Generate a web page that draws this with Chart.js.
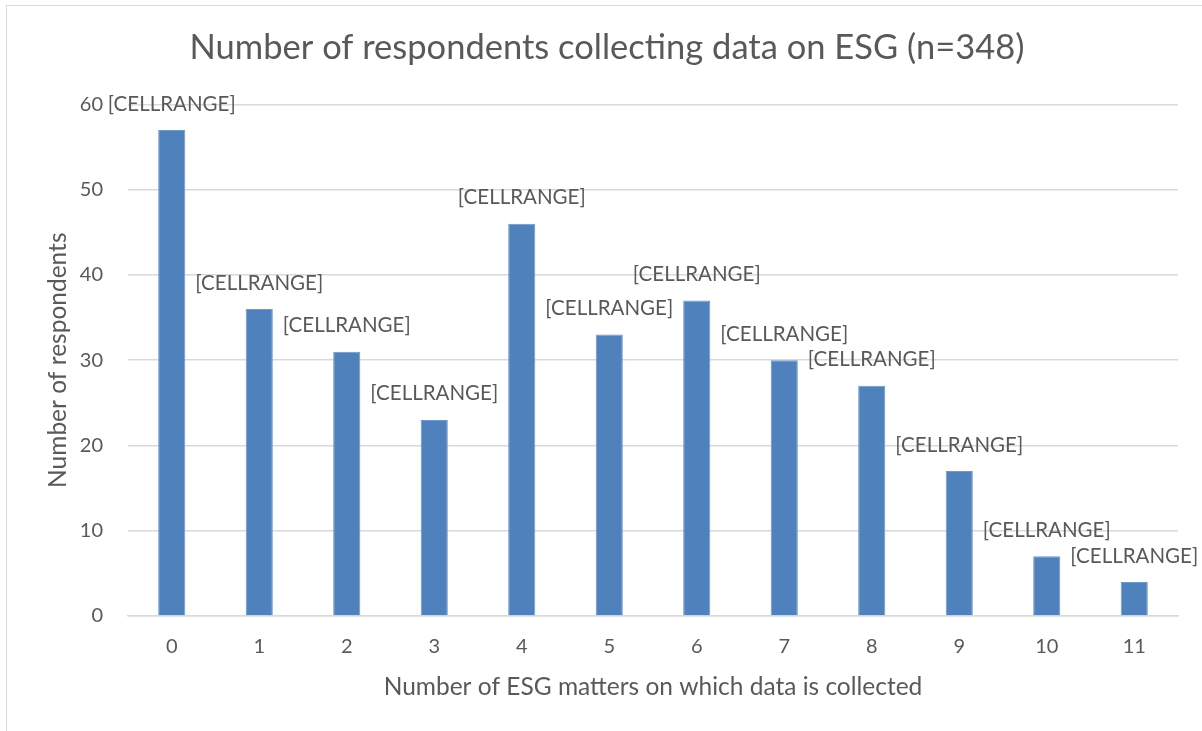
<!DOCTYPE html>
<html>
<head>
<meta charset="utf-8">
<script src="https://cdn.jsdelivr.net/npm/chart.js@4"></script>
<style>
  html, body { margin: 0; padding: 0; background: #fff; overflow: hidden; }
  #frame {
    position: absolute; left: 6px; top: 5px; width: 1400px; height: 900px;
    border-left: 1.5px solid #d9d9d9; border-top: 1.5px solid #d9d9d9;
  }
  #wrap { position: absolute; left: 0; top: 0; width: 1202px; height: 731px; }
</style>
</head>
<body>
<div id="frame"></div>
<div id="wrap"><canvas id="esgChart" width="1202" height="731"></canvas></div>
<script>
// Chart data
const categories = ['0', '1', '2', '3', '4', '5', '6', '7', '8', '9', '10', '11'];
const respondents = [57, 36, 31, 23, 46, 33, 37, 30, 27, 17, 7, 4];
const barLabels = ['[CELLRANGE]', '[CELLRANGE]', '[CELLRANGE]', '[CELLRANGE]', '[CELLRANGE]', '[CELLRANGE]',
  '[CELLRANGE]', '[CELLRANGE]', '[CELLRANGE]', '[CELLRANGE]', '[CELLRANGE]', '[CELLRANGE]'];
const yTicks = [0, 10, 20, 30, 40, 50, 60];

const FONT = 'Lato, "Open Sans", sans-serif';
const TEXT = '#595959';

// Draws the "[CELLRANGE]" labels above each bar
const barLabelPlugin = {
  id: 'barLabels',
  afterDatasetsDraw(chart) {
    const ctx = chart.ctx;
    const meta = chart.getDatasetMeta(0);
    ctx.save();
    ctx.font = '20.5px ' + FONT;
    ctx.fillStyle = TEXT;
    ctx.textAlign = 'center';
    ctx.textBaseline = 'middle';
    meta.data.forEach((bar, i) => {
      ctx.fillText(barLabels[i], bar.x, bar.y - 26);
    });
    ctx.restore();
  }
};

new Chart(document.getElementById('esgChart'), {
  type: 'bar',
  data: {
    labels: categories,
    datasets: [{
      data: respondents,
      backgroundColor: '#4f81bd',
      borderColor: '#6f97c9',
      borderWidth: 1,
      categoryPercentage: 1,
      barPercentage: 0.31
    }]
  },
  plugins: [barLabelPlugin],
  options: {
    responsive: false,
    animation: false,
    layout: { padding: { left: 36, right: 24, top: 0, bottom: 0 } },
    plugins: {
      legend: { display: false },
      tooltip: { enabled: false },
      title: {
        display: true,
        text: 'Number of respondents collecting data on ESG (n=348)',
        color: TEXT,
        font: { family: FONT, size: 34.5, weight: 'normal' },
        padding: { top: 27, bottom: 36 }
      }
    },
    scales: {
      x: {
        grid: { display: false, drawTicks: false },
        border: { display: true, color: '#d9d9d9', width: 1.5 },
        ticks: { color: TEXT, font: { family: FONT, size: 20 }, padding: 19 },
        title: {
          display: true,
          text: 'Number of ESG matters on which data is collected',
          color: TEXT,
          font: { family: FONT, size: 24.5 },
          padding: { top: 0, bottom: 29 }
        },
        afterFit(scale) { scale.height = 115; }
      },
      y: {
        min: 0,
        max: 60,
        afterBuildTicks(scale) { scale.ticks = yTicks.map(v => ({ value: v })); },
        grid: { color: '#d9d9d9', lineWidth: 1.5, drawTicks: false },
        border: { display: false },
        ticks: { color: TEXT, font: { family: FONT, size: 20 }, padding: 25 },
        title: {
          display: true,
          text: 'Number of respondents',
          color: TEXT,
          font: { family: FONT, size: 24.5 },
          padding: { top: 7, bottom: 0 }
        },
        afterFit(scale) { scale.width = 92; }
      }
    }
  }
});
</script>
</body>
</html>
